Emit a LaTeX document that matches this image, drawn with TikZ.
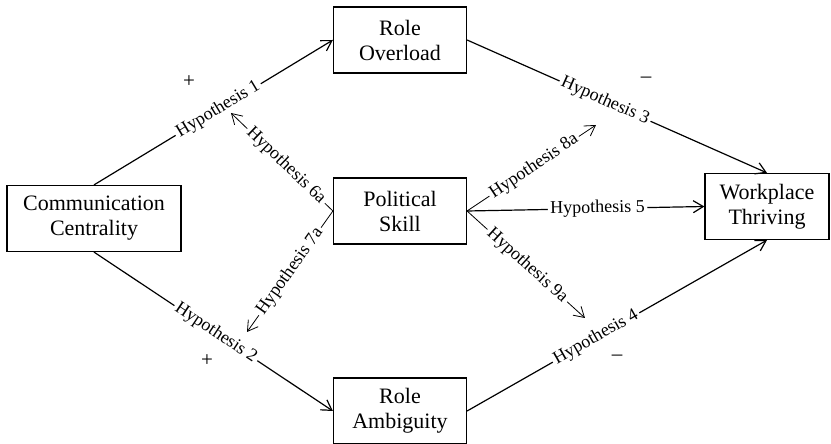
\documentclass[tikz,border=0pt]{standalone}
\usepackage{fontspec}
\setmainfont{Liberation Serif}
\usetikzlibrary{positioning,arrows.meta}
\tikzset{node distance=2cm, >={Straight Barb[length=5pt,width=6pt]}}
\tikzset{var/.style={draw, semithick, align=center, minimum width=66.5pt,
           minimum height=33pt, inner sep=2pt, font=\fontsize{11}{12.5}\selectfont},
         hyp/.style={sloped, fill=white, inner sep=1.2pt, font=\fontsize{9}{10}\selectfont},
         sign/.style={font=\fontsize{10.5}{11}\selectfont}}

\begin{document}
\begin{tikzpicture}
             \useasboundingbox (-200pt,-116.5pt) rectangle (215.5pt,105.5pt);

             \node[var] (PS) {Political\\Skill};
             \node[var] (RO) [above of=PS, node distance=85.5pt] {Role\\Overload};
             \node[var] (RA) [below of=PS, node distance=100pt] {Role\\Ambiguity};

             \node[var, minimum width=87pt] (CC) [left of=PS, node distance=153pt, yshift=-3.75pt] {Communication\\Centrality};
             \node[var, minimum width=62pt] (WT) [right of=PS, node distance=183.5pt, yshift=2.25pt] {Workplace\\Thriving};

             % ends of the moderating arrows
             \coordinate (t6) at (-84.5pt,49pt);
             \coordinate (t7) at (-76.5pt,-60.5pt);
             \coordinate (t8) at (98pt,43pt);
             \coordinate (t9) at (92.5pt,-53.5pt);

             \draw [->, semithick] (CC.north) to node[hyp, pos=0.52] {Hypothesis 1} (RO.west);
             \draw [->, semithick] (CC.south) to node[hyp, pos=0.51] {Hypothesis 2} (RA.west);
             \draw [->, semithick] (RO.east) to node[hyp, pos=0.46] {Hypothesis 3} (WT.north);
             \draw [->, semithick] (RA.east) to node[hyp, pos=0.43] {Hypothesis 4} (WT.south);
             \draw [->, semithick] (PS.east) to node[hyp, pos=0.55] {Hypothesis 5} (WT.west);

             \draw [->] (PS.west) to node[hyp, pos=0.46] {Hypothesis 6a} (t6);
             \draw [->] (PS.west) to node[hyp, pos=0.5] {Hypothesis 7a} (t7);
             \draw [->] (PS.east) to node[hyp, pos=0.52] {Hypothesis 8a} (t8);
             \draw [->] (PS.east) to node[hyp, pos=0.51] {Hypothesis 9a} (t9);

             \node[sign] (s1) at (-105.5pt,64.5pt) {+};
             \node[sign] (s2) at (-96.5pt,-75pt) {+};
             \node[sign] (s3) at (123pt,65.5pt) {–};
             \node[sign] (s4) at (108.5pt,-73.5pt) {–};
          \end{tikzpicture}
\end{document}
